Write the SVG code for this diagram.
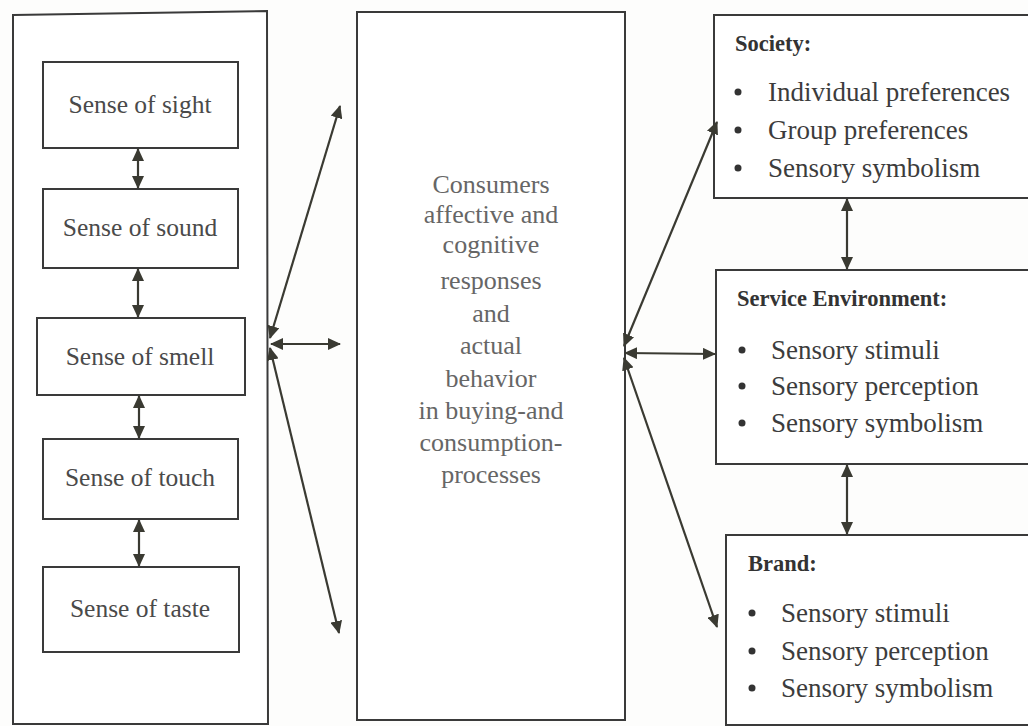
<svg xmlns="http://www.w3.org/2000/svg" width="1028" height="726" viewBox="0 0 1028 726">
  <defs>
    <marker id="ah" viewBox="0 0 13 12" refX="12" refY="6" markerWidth="13" markerHeight="12" markerUnits="userSpaceOnUse" orient="auto-start-reverse">
      <path d="M0,0 L13,6 L0,12 Z" fill="#3a3a32"/>
    </marker>
    <style>
      .box { fill: #ffffff; stroke: #3a3a3a; stroke-width: 2; }
      .sense { font-family: "Liberation Serif", "Times New Roman", serif; font-size: 25.5px; fill: #4a4a4a; text-anchor: middle; }
      .mid { font-family: "Liberation Serif", "Times New Roman", serif; font-size: 26px; fill: #666; text-anchor: middle; }
      .head { font-family: "Liberation Serif", "Times New Roman", serif; font-size: 22.5px; font-weight: bold; fill: #333; }
      .item { font-family: "Liberation Serif", "Times New Roman", serif; font-size: 27px; fill: #3c3c3c; }
      .dot { fill: #333; }
      .link { stroke: #3a3a32; stroke-width: 2.2; fill: none; marker-start: url(#ah); marker-end: url(#ah); }
    </style>
  </defs>
  <rect width="1028" height="726" fill="#fdfdfc"/>

  <!-- senses column -->
  <g id="senses">
    <path class="box" d="M13,15 L267,11 L268,724 L13,724 Z"/>
  </g>
  <g id="sight">
    <rect class="box" x="43" y="62" width="195" height="86"/>
    <text class="sense" x="140" y="113">Sense of sight</text>
  </g>
  <g id="sound">
    <rect class="box" x="43" y="189" width="195" height="79"/>
    <text class="sense" x="140" y="236">Sense of sound</text>
  </g>
  <g id="smell">
    <rect class="box" x="37" y="318" width="208" height="77"/>
    <text class="sense" x="140" y="365">Sense of smell</text>
  </g>
  <g id="touch">
    <rect class="box" x="43" y="439" width="195" height="80"/>
    <text class="sense" x="140" y="486">Sense of touch</text>
  </g>
  <g id="taste">
    <rect class="box" x="43" y="567" width="196" height="85"/>
    <text class="sense" x="140" y="617">Sense of taste</text>
  </g>

  <!-- consumer responses -->
  <g id="responses">
    <rect class="box" x="357" y="12" width="268" height="708"/>
    <text class="mid" x="491" y="193">Consumers</text>
    <text class="mid" x="491" y="223">affective and</text>
    <text class="mid" x="491" y="253">cognitive</text>
    <text class="mid" x="491" y="289">responses</text>
    <text class="mid" x="491" y="322">and</text>
    <text class="mid" x="491" y="354">actual</text>
    <text class="mid" x="491" y="387">behavior</text>
    <text class="mid" x="491" y="419">in buying-and</text>
    <text class="mid" x="491" y="451">consumption-</text>
    <text class="mid" x="491" y="483">processes</text>
  </g>

  <!-- influence levels -->
  <g id="society">
    <rect class="box" x="714" y="15" width="316" height="183"/>
    <text class="head" x="735" y="51">Society:</text>
    <circle class="dot" cx="738" cy="92" r="3.5"/>
    <text class="item" x="768" y="101">Individual preferences</text>
    <circle class="dot" cx="738" cy="130" r="3.5"/>
    <text class="item" x="768" y="139">Group preferences</text>
    <circle class="dot" cx="738" cy="168" r="3.5"/>
    <text class="item" x="768" y="177">Sensory symbolism</text>
  </g>
  <g id="service">
    <rect class="box" x="716" y="270" width="314" height="194"/>
    <text class="head" x="737" y="306">Service Environment:</text>
    <circle class="dot" cx="742" cy="350" r="3.5"/>
    <text class="item" x="771" y="359">Sensory stimuli</text>
    <circle class="dot" cx="742" cy="386" r="3.5"/>
    <text class="item" x="771" y="395">Sensory perception</text>
    <circle class="dot" cx="742" cy="423" r="3.5"/>
    <text class="item" x="771" y="432">Sensory symbolism</text>
  </g>
  <g id="brand">
    <rect class="box" x="726" y="535" width="304" height="190"/>
    <text class="head" x="748" y="571">Brand:</text>
    <circle class="dot" cx="752" cy="613" r="3.5"/>
    <text class="item" x="781" y="622">Sensory stimuli</text>
    <circle class="dot" cx="752" cy="651" r="3.5"/>
    <text class="item" x="781" y="660">Sensory perception</text>
    <circle class="dot" cx="752" cy="688" r="3.5"/>
    <text class="item" x="781" y="697">Sensory symbolism</text>
  </g>

  <!-- two-way connectors -->
  <g id="connectors">
    <line class="link" x1="138" y1="149" x2="138" y2="188"/>
    <line class="link" x1="138" y1="269" x2="138" y2="317"/>
    <line class="link" x1="139" y1="396" x2="139" y2="438"/>
    <line class="link" x1="139" y1="520" x2="139" y2="566"/>

    <line class="link" x1="270" y1="338" x2="340" y2="106"/>
    <line class="link" x1="271" y1="344" x2="340" y2="344"/>
    <line class="link" x1="270" y1="348" x2="339" y2="633"/>

    <line class="link" x1="624" y1="346" x2="717" y2="122"/>
    <line class="link" x1="625" y1="353" x2="715" y2="354"/>
    <line class="link" x1="624" y1="358" x2="717" y2="627"/>

    <line class="link" x1="847" y1="199" x2="847" y2="269"/>
    <line class="link" x1="847" y1="465" x2="847" y2="534"/>
  </g>
</svg>
